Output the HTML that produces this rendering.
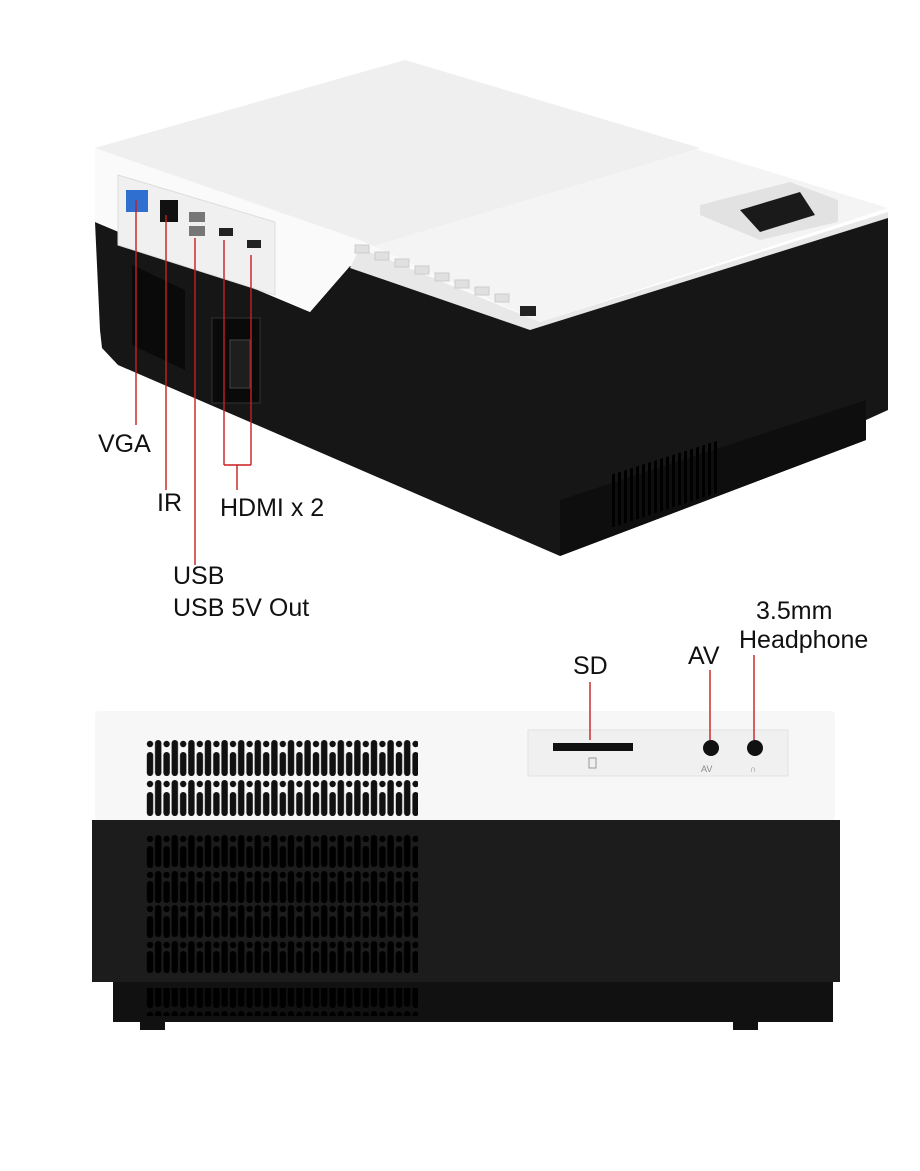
<!DOCTYPE html>
<html><head><style>
html,body{margin:0;padding:0;background:#fff;}
svg{display:block;}
text{font-family:"Liberation Sans",sans-serif;fill:#111;}
</style></head><body>
<svg width="920" height="1171" viewBox="0 0 920 1171" xmlns="http://www.w3.org/2000/svg">
<defs>
<pattern id="v1" x="146" y="740" width="16.6" height="80" patternUnits="userSpaceOnUse">
<circle cx="4" cy="4" r="3.2" fill="#111"/>
<rect x="0.8" y="12" width="6.4" height="24" rx="3.2" fill="#111"/>
<circle cx="4" cy="44" r="3.2" fill="#111"/>
<rect x="0.8" y="52" width="6.4" height="24" rx="3.2" fill="#111"/>
<rect x="9" y="0" width="6.4" height="36" rx="3.2" fill="#111"/>
<rect x="9" y="40" width="6.4" height="36" rx="3.2" fill="#111"/>
</pattern>
<pattern id="v2" x="146" y="835" width="16.6" height="70" patternUnits="userSpaceOnUse">
<circle cx="4" cy="4" r="3.2" fill="#000"/>
<rect x="0.8" y="11" width="6.4" height="22" rx="3.2" fill="#000"/>
<circle cx="4" cy="40" r="3.2" fill="#000"/>
<rect x="0.8" y="46" width="6.4" height="22" rx="3.2" fill="#000"/>
<rect x="9" y="0" width="6.4" height="32" rx="3.2" fill="#000"/>
<rect x="9" y="36" width="6.4" height="32" rx="3.2" fill="#000"/>
</pattern>
<pattern id="sl" x="0" y="0" width="6" height="10" patternUnits="userSpaceOnUse">
<rect x="0" y="0" width="3" height="10" fill="#000"/>
</pattern>
</defs>

<polygon points="95,222 310,312 350,266 530,328 888,216 888,410 866,420 866,440 560,556 118,365 102,348 100,330" fill="#161616"/>
<polygon points="560,500 866,400 866,440 560,556" fill="#0e0e0e"/>
<polygon points="610,475 720,440 720,492 610,528" fill="url(#sl)"/>
<polygon points="95,148 405,60 888,208 540,322" fill="#f4f4f4"/>
<polygon points="95,148 405,60 700,148 360,250" fill="#efefef"/>
<polygon points="95,148 360,240 540,322 530,328 350,266 310,312 95,222" fill="#fafafa"/>
<polygon points="360,248 540,322 888,212 888,218 530,330 350,268" fill="#e8e8e8"/>
<polygon points="118,175 275,222 275,295 118,245" fill="#f0f0f0" stroke="#ddd"/>
<rect x="126" y="190" width="22" height="22" fill="#2f6fd0"/>
<rect x="160" y="200" width="18" height="22" fill="#111"/>
<rect x="189" y="212" width="16" height="10" fill="#777"/>
<rect x="189" y="226" width="16" height="10" fill="#777"/>
<rect x="219" y="228" width="14" height="8" fill="#222"/>
<rect x="247" y="240" width="14" height="8" fill="#222"/>
<polygon points="700,205 790,182 838,200 838,222 760,240 700,215" fill="#e2e2e2"/>
<polygon points="740,210 800,192 815,215 760,232" fill="#1a1a1a"/>
<g fill="#e0e0e0" stroke="#ccc">
<rect x="355" y="245" width="14" height="8"/><rect x="375" y="252" width="14" height="8"/><rect x="395" y="259" width="14" height="8"/>
<rect x="415" y="266" width="14" height="8"/><rect x="435" y="273" width="14" height="8"/><rect x="455" y="280" width="14" height="8"/>
<rect x="475" y="287" width="14" height="8"/><rect x="495" y="294" width="14" height="8"/></g>
<rect x="520" y="306" width="16" height="10" fill="#222"/>
<polygon points="132,265 185,290 185,370 132,345" fill="#0a0a0a"/>
<rect x="212" y="318" width="48" height="85" fill="#0a0a0a" stroke="#333"/>
<rect x="230" y="340" width="20" height="48" fill="#1e1e1e" stroke="#444"/>
<g stroke="#c81e1e" stroke-width="1.4" fill="none">
<line x1="136" y1="200" x2="136" y2="425"/>
<line x1="166" y1="215" x2="166" y2="490"/>
<line x1="195" y1="238" x2="195" y2="565"/>
<line x1="224" y1="240" x2="224" y2="465"/>
<line x1="251" y1="255" x2="251" y2="465"/>
<line x1="224" y1="465" x2="251" y2="465"/>
<line x1="237" y1="465" x2="237" y2="490"/>
</g>
<text x="98" y="452" font-size="25">VGA</text>
<text x="157" y="511" font-size="25">IR</text>
<text x="220" y="516" font-size="25">HDMI x 2</text>
<text x="173" y="584" font-size="25">USB</text>
<text x="173" y="616" font-size="25">USB 5V Out</text>

<rect x="95" y="711" width="740" height="110" rx="4" fill="#f7f7f7"/>
<rect x="92" y="820" width="748" height="162" fill="#1c1c1c"/>
<rect x="113" y="982" width="720" height="40" fill="#111"/>
<rect x="140" y="1020" width="25" height="10" fill="#111"/>
<rect x="733" y="1020" width="25" height="10" fill="#111"/>
<rect x="146" y="740" width="272" height="78" fill="url(#v1)"/>
<rect x="146" y="835" width="272" height="140" fill="url(#v2)"/>
<rect x="146" y="988" width="272" height="28" fill="url(#v2)"/>
<rect x="528" y="730" width="260" height="46" fill="#f0f0f0" stroke="#e2e2e2"/>
<rect x="553" y="743" width="80" height="8" fill="#111"/>
<rect x="589" y="758" width="7" height="10" fill="none" stroke="#999"/>
<circle cx="711" cy="748" r="8" fill="#111"/>
<circle cx="755" cy="748" r="8" fill="#111"/>
<text x="701" y="772" font-size="9" style="fill:#888">AV</text>
<text x="750" y="772" font-size="9" style="fill:#888">∩</text>
<g stroke="#c81e1e" stroke-width="1.4">
<line x1="590" y1="682" x2="590" y2="740"/>
<line x1="710" y1="670" x2="710" y2="740"/>
<line x1="754" y1="655" x2="754" y2="740"/>
</g>
<text x="573" y="674" font-size="25">SD</text>
<text x="688" y="664" font-size="25">AV</text>
<text x="756" y="619" font-size="25">3.5mm</text>
<text x="739" y="648" font-size="25">Headphone</text>
</svg>
</body></html>
